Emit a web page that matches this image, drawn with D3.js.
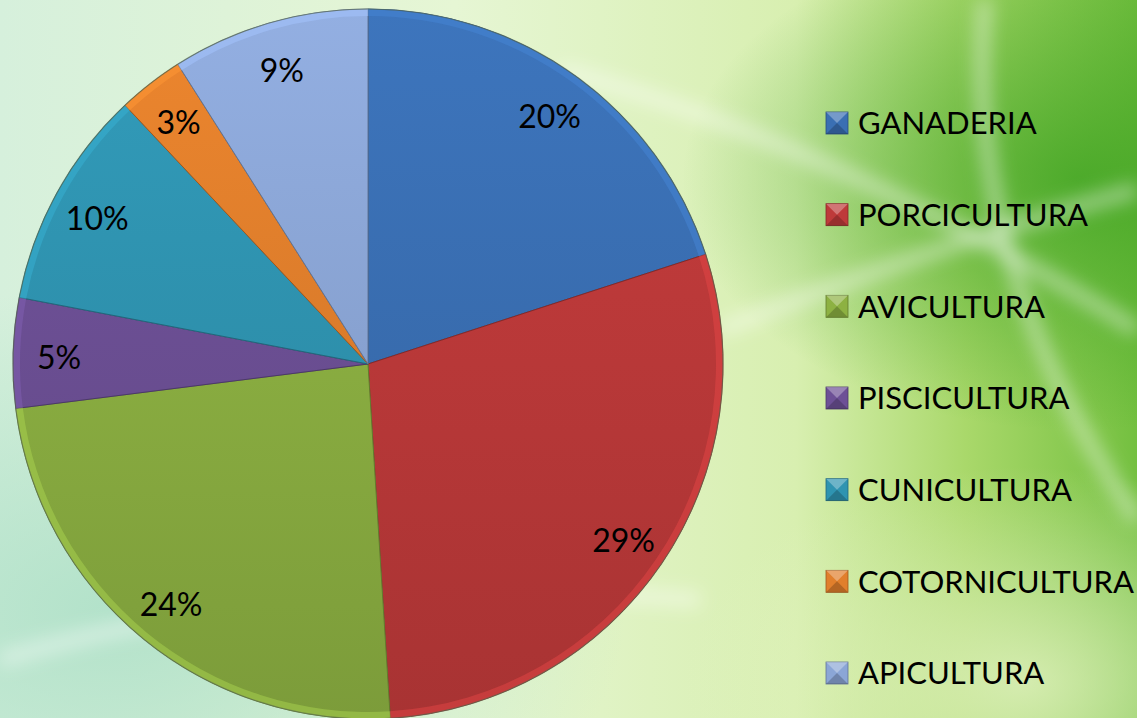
<!DOCTYPE html>
<html>
<head>
<meta charset="utf-8">
<script src="https://cdn.jsdelivr.net/npm/d3@7"></script>
<style>
  html, body { margin: 0; padding: 0; overflow: hidden; }
  body { width: 1137px; height: 718px; }
  text { font-family: Lato, "Open Sans", sans-serif; fill: #000; }
</style>
</head>
<body>
<div id="chart"></div>
<script>
// chart data
var categories = ["GANADERIA", "PORCICULTURA", "AVICULTURA", "PISCICULTURA", "CUNICULTURA", "COTORNICULTURA", "APICULTURA"];
var values = [20, 29, 24, 5, 10, 3, 9];
var colors = ["#3a6fb3", "#be3a3a", "#8db142", "#6d5096", "#2f94b1", "#e17f2c", "#8ba6d6"];

var width = 1137, height = 718;
var cx = 368, cy = 364, radius = 355;

var svg = d3.select("#chart")
    .append("svg")
    .attr("width", width)
    .attr("height", height);

var defs = svg.append("defs");

// background : light mint on the left, saturated green on the right
var bg = defs.append("linearGradient")
    .attr("id", "bg")
    .attr("x1", "0%").attr("y1", "0%")
    .attr("x2", "100%").attr("y2", "0%");
bg.selectAll("stop")
    .data([
        {offset: "0%", color: "#d6f0dc"},
        {offset: "40%", color: "#e6f6d4"},
        {offset: "70%", color: "#d8efb0"},
        {offset: "85%", color: "#a9d86a"},
        {offset: "100%", color: "#74c040"}
    ])
    .enter().append("stop")
    .attr("offset", d => d.offset)
    .attr("stop-color", d => d.color);

var glow = defs.append("radialGradient")
    .attr("id", "glow")
    .attr("cx", "95%").attr("cy", "25%").attr("r", "35%");
glow.append("stop").attr("offset", "0%").attr("stop-color", "#3fa322").attr("stop-opacity", 0.8);
glow.append("stop").attr("offset", "100%").attr("stop-color", "#3fa322").attr("stop-opacity", 0);

var mint = defs.append("radialGradient")
    .attr("id", "mint")
    .attr("cx", "10%").attr("cy", "85%").attr("r", "45%");
mint.append("stop").attr("offset", "0%").attr("stop-color", "#aee0c8").attr("stop-opacity", 0.9);
mint.append("stop").attr("offset", "100%").attr("stop-color", "#aee0c8").attr("stop-opacity", 0);

var lower = defs.append("radialGradient")
    .attr("id", "lower")
    .attr("cx", "90%").attr("cy", "95%").attr("r", "30%");
lower.append("stop").attr("offset", "0%").attr("stop-color", "#e4f3c4").attr("stop-opacity", 0.8);
lower.append("stop").attr("offset", "100%").attr("stop-color", "#e4f3c4").attr("stop-opacity", 0);

defs.append("filter").attr("id", "blur")
    .attr("x", "-20%").attr("y", "-20%").attr("width", "140%").attr("height", "140%")
    .append("feGaussianBlur").attr("stdDeviation", 9);

svg.append("rect").attr("width", width).attr("height", height).attr("fill", "url(#bg)");
svg.append("rect").attr("width", width).attr("height", height).attr("fill", "url(#glow)");
svg.append("rect").attr("width", width).attr("height", height).attr("fill", "url(#mint)");
svg.append("rect").attr("width", width).attr("height", height).attr("fill", "url(#lower)");

// soft white swooshes of the slide background
var swooshes = [
    "M 560 70 Q 850 150 1137 330",
    "M 720 330 Q 950 240 1137 190",
    "M 985 0 Q 960 260 1137 520",
    "M 0 660 Q 300 570 700 600"
];
svg.append("g")
    .attr("filter", "url(#blur)")
    .selectAll("path")
    .data(swooshes)
    .enter().append("path")
    .attr("d", d => d)
    .attr("fill", "none")
    .attr("stroke", "#ffffff")
    .attr("stroke-opacity", 0.45)
    .attr("stroke-width", 14);

// slice gradients (lighter on top, darker at the bottom)
categories.forEach(function (c, i) {
    var g = defs.append("linearGradient")
        .attr("id", "slice" + i)
        .attr("gradientUnits", "userSpaceOnUse")
        .attr("x1", 0).attr("y1", -radius)
        .attr("x2", 0).attr("y2", radius);
    g.append("stop").attr("offset", "0%").attr("stop-color", d3.color(colors[i]).brighter(0.15));
    g.append("stop").attr("offset", "100%").attr("stop-color", d3.color(colors[i]).darker(0.35));
});

var pie = d3.pie()
    .sort(null)
    .value(d => d);

var arcs = pie(values);

var arc = d3.arc()
    .innerRadius(0)
    .outerRadius(radius);

var bevel = d3.arc()
    .innerRadius(radius - 7)
    .outerRadius(radius);

var labelArc = d3.arc()
    .innerRadius(309)
    .outerRadius(309);

var pieG = svg.append("g")
    .attr("transform", "translate(" + cx + "," + cy + ")");

pieG.selectAll(".slice")
    .data(arcs)
    .enter().append("path")
    .attr("class", "slice")
    .attr("d", arc)
    .attr("fill", (d, i) => "url(#slice" + i + ")")
    .attr("stroke", (d, i) => d3.color(colors[i]).darker(1))
    .attr("stroke-width", 1);

// outer bevel highlight
pieG.selectAll(".bevel")
    .data(arcs)
    .enter().append("path")
    .attr("class", "bevel")
    .attr("d", bevel)
    .attr("fill", (d, i) => d3.color(colors[i]).brighter(0.5))
    .attr("fill-opacity", 0.5);

pieG.append("circle")
    .attr("r", radius)
    .attr("fill", "none")
    .attr("stroke", "#5a6a50")
    .attr("stroke-opacity", 0.6)
    .attr("stroke-width", 1.2);

pieG.selectAll(".label")
    .data(arcs)
    .enter().append("text")
    .attr("class", "label")
    .attr("transform", d => "translate(" + labelArc.centroid(d) + ")")
    .attr("text-anchor", "middle")
    .attr("dy", "0.45em")
    .style("font-size", "32px")
    .text(d => d.value + "%");

// legend
var legendY = d3.scalePoint()
    .domain(categories)
    .range([123, 673]);

var legend = svg.append("g").attr("class", "legend");

var item = legend.selectAll(".item")
    .data(categories)
    .enter().append("g")
    .attr("class", "item")
    .attr("transform", d => "translate(826," + legendY(d) + ")");

item.append("rect")
    .attr("x", 0)
    .attr("y", -11)
    .attr("width", 22)
    .attr("height", 22)
    .attr("fill", (d, i) => colors[i])
    .attr("stroke", (d, i) => d3.color(colors[i]).darker(1))
    .attr("stroke-width", 0.8);

// little pyramid facets on the legend keys
item.append("path")
    .attr("d", "M0,-11 L22,-11 L11,0 Z")
    .attr("fill", "#fff")
    .attr("fill-opacity", 0.3);
item.append("path")
    .attr("d", "M0,11 L22,11 L11,0 Z")
    .attr("fill", "#000")
    .attr("fill-opacity", 0.2);

item.append("text")
    .attr("x", 32)
    .attr("dy", "0.36em")
    .style("font-size", "31px")
    .text(d => d);
</script>
</body>
</html>
